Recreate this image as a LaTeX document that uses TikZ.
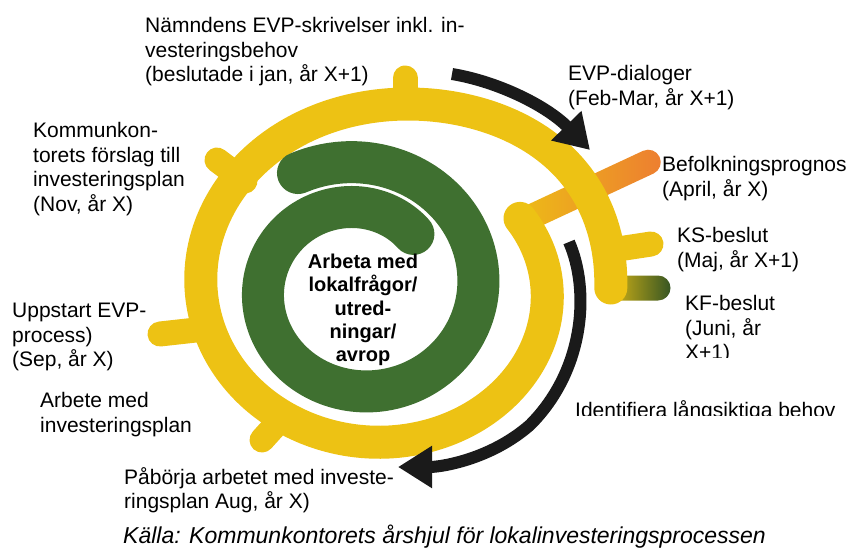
\documentclass[tikz,border=0pt]{standalone}
\usepackage{fontspec}
\setmainfont{Liberation Sans}
\usetikzlibrary{arrows.meta}
\definecolor{yel}{RGB}{237,194,20}
\definecolor{grn}{RGB}{63,112,48}
\definecolor{kfgrn}{RGB}{55,86,35}
\definecolor{orng}{RGB}{237,125,49}
\definecolor{blk}{RGB}{26,26,26}
\tikzset{
  yband/.style={yel, line width=33pt, line cap=round},
  gband/.style={grn, line width=42pt, line cap=round},
  stub/.style={yel, line width=25pt, line cap=round},
  blkarrow/.style={blk, line width=12pt, -{Triangle[length=34pt,width=40pt]}},
  lbl/.style={inner sep=0pt, align=left, font=\fontsize{21pt}{24.6pt}\selectfont}
}
\begin{document}
\begin{tikzpicture}[x=1pt,y=-1pt]
\useasboundingbox (0,0) rectangle (851,549);
\begin{scope}[shift={(520,222)}, rotate=25]
\shade[left color=yel, middle color=orng!85!yel, right color=orng, rounded corners=12.5pt] (-12.5,-12.5) rectangle (154,12.5);
\end{scope}
\shade[left color=yel, middle color=yel!45!kfgrn, right color=kfgrn, rounded corners=12.5pt] (600,275.5) rectangle (670.5,300.5);
\draw[stub] (405,78) -- (405,100);
\draw[stub] (217,160) -- (245,181);
\draw[stub] (160,334) -- (205,329);
\draw[stub] (262,440) -- (281,419);
\draw[stub] (605,251) -- (651,244);
\draw[yband] plot[domain=-31:360, samples=140, smooth] ({389+(158+\x/6+14*exp(-((\x-320)/35)^2))*cos(\x)}, {288+(140+0.1556*\x+10*exp(-((\x-320)/35)^2))*sin(\x)});
\draw[gband] plot[domain=243:674, samples=120, smooth] ({359+(130.9-0.1301*(\x-270))*cos(\x)}, {288+0.96*(130.9-0.1301*(\x-270))*sin(\x)});
\coordinate (dlgs) at (452,74);
\coordinate (dlge) at (590,150);
\draw[blkarrow] (dlgs) .. controls (500,82) and (548,107) .. (dlge);
\coordinate (behs) at (569,242);
\coordinate (behm) at (530,425);
\coordinate (behe) at (398,467);
\draw[blkarrow] (behs) .. controls (590,290) and (585,370) .. (behm) .. controls (490,460) and (440,467) .. (behe);
\node[lbl, anchor=north west] (namnd) at (145,17) {Nämndens EVP-skrivelser inkl. in-\\vesteringsbehov\\(beslutade i jan, år X+1)};
\node[lbl, anchor=north west] (dialog) at (568,65) {EVP-dialoger\\(Feb-Mar, år X+1)};
\node[lbl, anchor=north west] (befolk) at (662,156) {Befolkningsprognos\\(April, år X)};
\node[lbl, anchor=north west] (ks) at (677,227) {KS-beslut\\(Maj, år X+1)};
\begin{scope}
\clip (670,280) rectangle (800,357);
\node[lbl, anchor=north west] (kf) at (685,295) {KF-beslut\\(Juni, år\\X+1)};
\end{scope}
\begin{scope}
\clip (560,390) rectangle (851,415);
\node[lbl, anchor=north west] (ident) at (575,400) {Identifiera långsiktiga behov};
\end{scope}
\node[lbl, anchor=north west] (kommun) at (33,122) {Kommunkon-\\torets förslag till\\investeringsplan\\(Nov, år X)};
\node[lbl, anchor=north west] (uppst) at (12,303) {Uppstart EVP-\\process)\\(Sep, år X)};
\node[lbl, anchor=north west] (arbplan) at (40,392) {Arbete med\\investeringsplan};
\node[lbl, anchor=north west] (pabor) at (124,467) {Påbörja arbetet med investe-\\ringsplan Aug, år X)};
\node[inner sep=0pt, align=center, font=\fontsize{20pt}{23.3pt}\selectfont\bfseries, anchor=north] (lokal) at (363,254) {Arbeta med\\lokalfrågor/\\utred-\\ningar/\\avrop};
\node[inner sep=0pt, anchor=north west, font=\fontsize{23pt}{28pt}\selectfont\itshape] (kalla) at (123,525) {Källa: Kommunkontorets årshjul för lokalinvesteringsprocessen};
\end{tikzpicture}
\end{document}
